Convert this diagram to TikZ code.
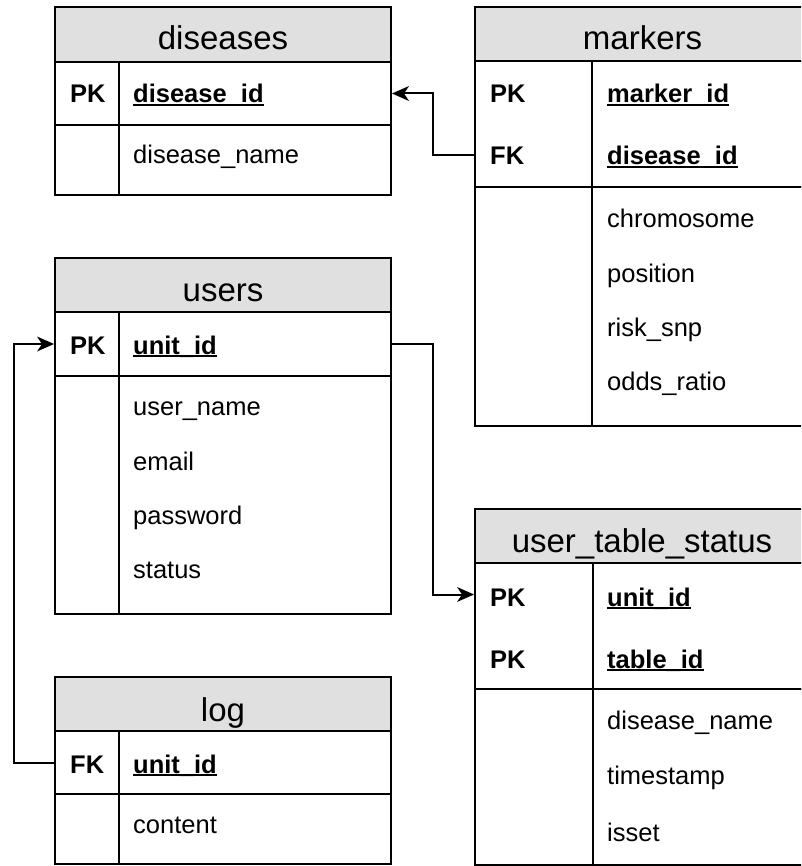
\documentclass[tikz,border=0pt]{standalone}
\usepackage{fontspec}
\setmainfont{Liberation Sans}
\usetikzlibrary{arrows.meta}
\definecolor{hdrgray}{HTML}{E0E0E0}
\newcommand\keyf[1]{\setbox0\hbox{\bfseries #1}\rlap{\rule[-0.13em]{\wd0}{0.075em}}\box0}
\tikzset{
  tbl/.style={draw, line width=2pt, inner sep=0pt, outer sep=0pt, anchor=north west, rectangle},
  hdr/.style={tbl, fill=hdrgray},
  rowbox/.style={inner sep=0pt, outer sep=0pt, anchor=north west, rectangle},
  fld/.style={anchor=base west, inner sep=0pt, font=\fontsize{25.5}{30}\selectfont},
  keyl/.style={fld, font=\fontsize{25.5}{30}\selectfont\bfseries},
  ttl/.style={anchor=base, inner sep=0pt, font=\fontsize{33}{40}\selectfont},
  divline/.style={line width=2pt},
  conn/.style={line width=2pt},
  headl/.style={fill=black, line join=miter},
  headr/.style={fill=black, line join=miter}
}
\begin{document}
\begin{tikzpicture}[x=1pt,y=-1pt]
\useasboundingbox (0,0) rectangle (801,866);
\clip (0,0) rectangle (801,866);

% ---------- diseases ----------
\node[hdr, minimum width=336pt, minimum height=55pt] (d-h) at (55,7) {};
\node[tbl, minimum width=336pt, minimum height=63pt] (d-k) at (55,62) {};
\node[tbl, minimum width=336pt, minimum height=70pt] (d-b) at (55,125) {};
\draw[divline] (119,62) -- (119,195);
\node[rowbox, minimum width=336pt, minimum height=63pt] (d-r1) at (55,62) {};
\node[ttl] (d-t) at (223,50) {diseases};
\node[keyl] (d-k1) at (70,103) {PK};
\node[fld] (d-f1) at (133,103) {\keyf{disease\_id}};
\node[fld] (d-f2) at (133,164) {disease\_name};

% ---------- markers ----------
\node[hdr, minimum width=335pt, minimum height=54pt] (m-h) at (475,7) {};
\node[tbl, minimum width=335pt, minimum height=126pt] (m-k) at (475,61) {};
\node[tbl, minimum width=335pt, minimum height=239pt] (m-b) at (475,187) {};
\draw[divline] (592,61) -- (592,426);
\node[rowbox, minimum width=335pt, minimum height=63pt] (m-r1) at (475,61) {};
\node[rowbox, minimum width=335pt, minimum height=63pt] (m-r2) at (475,124) {};
\node[ttl] (m-t) at (642.5,50) {markers};
\node[keyl] (m-k1) at (490,103) {PK};
\node[fld] (m-f1) at (607,103) {\keyf{marker\_id}};
\node[keyl] (m-k2) at (490,165) {FK};
\node[fld] (m-f2) at (607,165) {\keyf{disease\_id}};
\node[fld] (m-f3) at (607,228) {chromosome};
\node[fld] (m-f4) at (607,282) {position};
\node[fld] (m-f5) at (607,336) {risk\_snp};
\node[fld] (m-f6) at (607,390) {odds\_ratio};

% ---------- users ----------
\node[hdr, minimum width=336pt, minimum height=54pt] (u-h) at (55,258) {};
\node[tbl, minimum width=336pt, minimum height=64pt] (u-k) at (55,312) {};
\node[tbl, minimum width=336pt, minimum height=238pt] (u-b) at (55,376) {};
\draw[divline] (118.5,312) -- (118.5,614);
\node[rowbox, minimum width=336pt, minimum height=64pt] (u-r1) at (55,312) {};
\node[ttl] (u-t) at (223,301) {users};
\node[keyl] (u-k1) at (70,354) {PK};
\node[fld] (u-f1) at (133,354) {\keyf{unit\_id}};
\node[fld] (u-f2) at (133,415) {user\_name};
\node[fld] (u-f3) at (133,470) {email};
\node[fld] (u-f4) at (133,524) {password};
\node[fld] (u-f5) at (133,578) {status};

% ---------- log ----------
\node[hdr, minimum width=336pt, minimum height=54pt] (l-h) at (55,677) {};
\node[tbl, minimum width=336pt, minimum height=63pt] (l-k) at (55,731) {};
\node[tbl, minimum width=336pt, minimum height=70pt] (l-b) at (55,794) {};
\draw[divline] (118.5,731) -- (118.5,864);
\node[rowbox, minimum width=336pt, minimum height=63pt] (l-r1) at (55,731) {};
\node[ttl] (l-t) at (223,721) {log};
\node[keyl] (l-k1) at (70,773) {FK};
\node[fld] (l-f1) at (133,773) {\keyf{unit\_id}};
\node[fld] (l-f2) at (133,833) {content};

% ---------- user_table_status ----------
\node[hdr, minimum width=335pt, minimum height=54pt] (s-h) at (475,509) {};
\node[tbl, minimum width=335pt, minimum height=126pt] (s-k) at (475,563) {};
\node[tbl, minimum width=335pt, minimum height=176pt] (s-b) at (475,689) {};
\draw[divline] (593,563) -- (593,865);
\node[rowbox, minimum width=335pt, minimum height=63pt] (s-r1) at (475,563) {};
\node[ttl] (s-t) at (642,552) {user\_table\_status};
\node[keyl] (s-k1) at (490,606) {PK};
\node[fld] (s-f1) at (607,606) {\keyf{unit\_id}};
\node[keyl] (s-k2) at (490,668) {PK};
\node[fld] (s-f2) at (607,668) {\keyf{table\_id}};
\node[fld] (s-f3) at (607,729) {disease\_name};
\node[fld] (s-f4) at (607,784) {timestamp};
\node[fld] (s-f5) at (607,841) {isset};

% ---------- connectors ----------
\draw[conn] (m-r2.west) -- ++(-42,0) |- ([xshift=10pt]d-r1.east);
\fill[headl] ([xshift=1pt]d-r1.east) -- ++(17,-7.5) -- ++(-5,7.5) -- ++(5,7.5) -- cycle;
\draw[conn] (l-r1.west) -- ++(-41,0) |- ([xshift=-10pt]u-r1.west);
\fill[headr] ([xshift=-1pt]u-r1.west) -- ++(-17,-7.5) -- ++(5,7.5) -- ++(-5,7.5) -- cycle;
\draw[conn] (u-r1.east) -- ++(42,0) |- ([xshift=-10pt]s-r1.west);
\fill[headr] ([xshift=-1pt]s-r1.west) -- ++(-17,-7.5) -- ++(5,7.5) -- ++(-5,7.5) -- cycle;
\end{tikzpicture}
\end{document}
